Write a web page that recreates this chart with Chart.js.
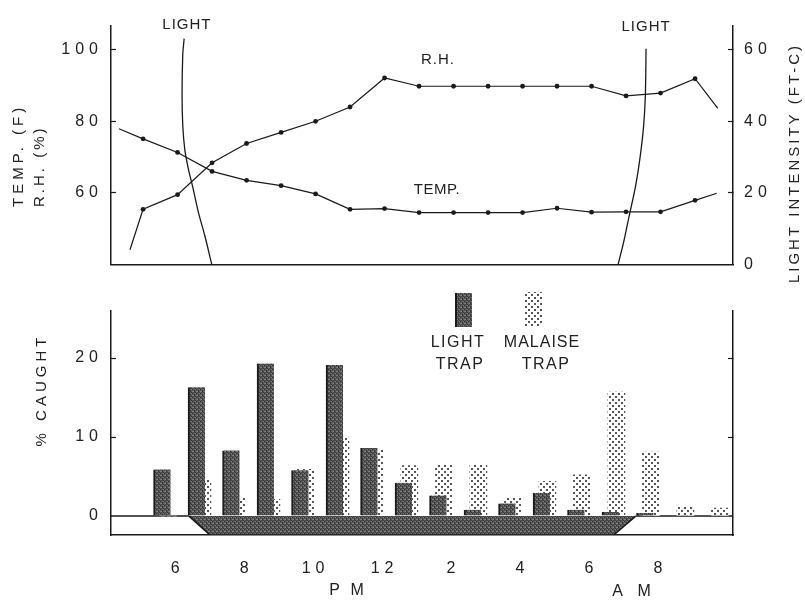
<!DOCTYPE html>
<html>
<head>
<meta charset="utf-8">
<script src="https://cdn.jsdelivr.net/npm/chart.js@4.4.1/dist/chart.umd.min.js"></script>
<style>
  html, body { margin: 0; padding: 0; background: #fff; }
  #wrap { position: relative; width: 805px; height: 600px; overflow: hidden; }
  #topChart { position: absolute; left: 0; top: 0; }
  #bottomChart { position: absolute; left: 0; top: 285px; }
</style>
</head>
<body>
<div id="wrap">
  <canvas id="topChart" width="805" height="290"></canvas>
  <canvas id="bottomChart" width="805" height="315"></canvas>
</div>
<script>
// hours are counted from noon of the first day: 17 = 5 PM ... 24 = midnight ... 33 = 9 AM
const readingHours = [17, 18, 19, 20, 21, 22, 23, 24, 25, 26, 27, 28, 29, 30, 31, 32, 33];
const tempF  = [75.1, 71.3, 66.0, 63.5, 62.0, 59.7, 55.4, 55.6, 54.5, 54.5, 54.5, 54.5, 55.7, 54.6, 54.7, 54.7, 57.9];
const relHum = [55.4, 59.5, 68.4, 73.8, 76.9, 80.0, 84.0, 92.1, 89.8, 89.8, 89.8, 89.8, 89.8, 89.8, 87.1, 87.9, 91.9];
// the curves run a little past the first and last readings
const tempEdgeHours = [16.3, 33.63];
const tempEdgeValues = [77.9, 59.9];
const rhEdgeHours = [16.62, 33.66];
const rhEdgeValues = [44.1, 83.6];

// light intensity (ft-c) at dusk and dawn
const duskHours = [18.19, 18.15, 18.13, 18.15, 18.21, 18.31, 18.44, 18.60, 18.79, 18.99];
const duskLight = [63.1, 58.6, 47.4, 38.9, 32.0, 26.8, 21.6, 14.7, 8.0, 0];
const dawnHours = [30.77, 30.93, 31.08, 31.27, 31.41, 31.51, 31.56, 31.58];
const dawnLight = [0, 6.2, 13.1, 21.6, 30.2, 38.8, 47.4, 60.3];

// % caught per hourly interval (interval start hour)
const binStarts = [17, 18, 19, 20, 21, 22, 23, 24, 25, 26, 27, 28, 29, 30, 31, 32, 33];
const lightTrapPct   = [5.9, 16.3, 8.3, 19.3, 5.8, 19.1, 8.6, 4.2, 2.6, 0.8, 1.6, 2.9, 0.8, 0.5, 0.4, 0, 0];
const malaiseTrapPct = [0, 4.6, 2.3, 2.1, 5.9, 10.0, 8.4, 6.4, 6.5, 6.5, 2.3, 4.4, 5.2, 15.7, 8.1, 1.2, 1.0];

// dark night band under the bars
const nightHours = [18.33, 18.94, 30.64, 31.28];
const nightEdge  = [0, -2.4, -2.4, 0];

const tempTicks = [60, 80, 100];
const lightTicks = [0, 20, 40, 60];
const caughtTicks = [0, 10, 20];
const clockTicks = [18, 20, 22, 24, 26, 28, 30, 32];
const clockLabels = ['6', '8', '10', '12', '2', '4', '6', '8'];

const X_MIN = 16.07, X_MAX = 34.1;
const INK = '#1a1a1a';
const FONT = '"Liberation Sans", Arial, sans-serif';

Chart.defaults.font.family = FONT;
Chart.defaults.font.size = 16;
Chart.defaults.color = '#222';

function makePattern(size, bg, dots) {
    const c = document.createElement('canvas');
    c.width = size; c.height = size;
    const g = c.getContext('2d');
    g.fillStyle = bg;
    g.fillRect(0, 0, size, size);
    dots.forEach(d => {
        g.fillStyle = d[4];
        g.fillRect(d[0], d[1], d[2], d[3]);
    });
    return g.createPattern(c, 'repeat');
}

const darkFill = makePattern(4, '#5a5a5a', [
    [0, 0, 1, 1, '#2e2e2e'], [2, 1, 1, 1, '#363636'], [1, 2, 1, 1, '#8a8a8a'],
    [3, 3, 1, 1, '#333'], [3, 0, 1, 1, '#7c7c7c'], [1, 3, 1, 1, '#444'],
    [2, 2, 1, 1, '#303030'], [0, 2, 1, 1, '#777']
]);
const dotFill = makePattern(6, '#ffffff', [
    [0, 0, 2, 2, '#555'], [3, 3, 2, 2, '#555']
]);

function drawText(ctx, text, x, y, o) {
    ctx.save();
    ctx.font = (o.size || 15) + 'px ' + FONT;
    ctx.letterSpacing = (o.spacing || 0) + 'px';
    ctx.fillStyle = '#222';
    ctx.textAlign = o.align || 'center';
    ctx.textBaseline = 'middle';
    ctx.translate(x, y);
    if (o.rotate) ctx.rotate(o.rotate);
    ctx.fillText(text, 0, 0);
    ctx.restore();
}

const spacedTicks = {
    id: 'spacedTicks',
    beforeDraw(chart) { chart.ctx.letterSpacing = '5px'; }
};

function withEdges(hours, values, edgeH, edgeV) {
    const pts = hours.map((h, i) => ({x: h, y: values[i]}));
    return [{x: edgeH[0], y: edgeV[0]}, ...pts, {x: edgeH[1], y: edgeV[1]}];
}

function yAxis(position, ticks, min, max, padding, showLabels) {
    return {
        type: 'linear',
        position: position,
        min: min,
        max: max,
        afterBuildTicks: s => { s.ticks = ticks.map(v => ({value: v})); },
        afterFit: s => { s.width = position === 'left' ? 111 : 72; },
        ticks: {
            padding: padding,
            font: {size: 16},
            callback: v => showLabels ? String(v) : ''
        },
        grid: {
            drawOnChartArea: false,
            tickLength: -5,
            tickWidth: 1.2,
            tickColor: c => c.tick && c.tick.value === 0 ? 'rgba(0,0,0,0)' : INK
        },
        border: {display: true, color: INK, width: 1.5}
    };
}

// ---------- upper panel: temperature, R.H., light ----------
const topLabels = {
    id: 'topLabels',
    afterDraw(chart) {
        const ctx = chart.ctx;
        const x = chart.scales.x, y = chart.scales.y;
        drawText(ctx, 'LIGHT', x.getPixelForValue(18.27), y.getPixelForValue(107), {size: 15, spacing: 1});
        drawText(ctx, 'LIGHT', x.getPixelForValue(31.58), y.getPixelForValue(106.5), {size: 15, spacing: 1});
        drawText(ctx, 'R.H.', x.getPixelForValue(25.55), y.getPixelForValue(97.1), {size: 15, spacing: 1});
        drawText(ctx, 'TEMP.', x.getPixelForValue(25.52), y.getPixelForValue(60.9), {size: 15, spacing: 0.5});
        drawText(ctx, 'TEMP. (F)', 19, 207, {size: 15, spacing: 4, align: 'left', rotate: -Math.PI / 2});
        drawText(ctx, 'R.H. (%)', 40, 207, {size: 15, spacing: 3, align: 'left', rotate: -Math.PI / 2});
        drawText(ctx, 'LIGHT INTENSITY (FT-C)', 795, 163, {size: 15, spacing: 3, rotate: -Math.PI / 2});
    }
};

const dotRadius = c => (c.dataIndex === 0 || c.dataIndex === readingHours.length + 1) ? 0 : 2.4;

new Chart(document.getElementById('topChart'), {
    type: 'line',
    data: {
        datasets: [
            {
                label: 'R.H.',
                data: withEdges(readingHours, relHum, rhEdgeHours, rhEdgeValues),
                yAxisID: 'y',
                borderColor: INK, backgroundColor: INK, borderWidth: 1.2,
                pointRadius: dotRadius, pointBorderWidth: 0, tension: 0
            },
            {
                label: 'TEMP.',
                data: withEdges(readingHours, tempF, tempEdgeHours, tempEdgeValues),
                yAxisID: 'y',
                borderColor: INK, backgroundColor: INK, borderWidth: 1.2,
                pointRadius: dotRadius, pointBorderWidth: 0, tension: 0
            },
            {
                label: 'LIGHT dusk',
                data: duskHours.map((h, i) => ({x: h, y: duskLight[i]})),
                yAxisID: 'yLight',
                borderColor: INK, borderWidth: 1.3, pointRadius: 0, tension: 0.3
            },
            {
                label: 'LIGHT dawn',
                data: dawnHours.map((h, i) => ({x: h, y: dawnLight[i]})),
                yAxisID: 'yLight',
                borderColor: INK, borderWidth: 1.3, pointRadius: 0, tension: 0.3
            }
        ]
    },
    options: {
        responsive: false,
        animation: false,
        layout: {padding: {top: 23, bottom: 5, left: 0, right: 0}},
        plugins: {legend: {display: false}, tooltip: {enabled: false}},
        scales: {
            x: {
                type: 'linear', min: X_MIN, max: X_MAX,
                ticks: {display: false},
                grid: {display: false},
                border: {display: true, color: INK, width: 1.5},
                afterFit: s => { s.height = 0; }
            },
            y: yAxis('left', tempTicks, 40, 106.75, 13, true),
            yLight: yAxis('right', lightTicks, 0, 66.75, 16, true)
        }
    },
    plugins: [spacedTicks, topLabels]
});

// ---------- lower panel: % caught ----------
const bottomLabels = {
    id: 'bottomLabels',
    afterDraw(chart) {
        const ctx = chart.ctx;
        const x = chart.scales.x;
        const area = chart.chartArea;
        drawText(ctx, 'P M', x.getPixelForValue(22.94), area.bottom + 56, {size: 16, spacing: 3});
        drawText(ctx, 'A M', x.getPixelForValue(31.23), area.bottom + 57, {size: 16, spacing: 5});
        drawText(ctx, '% CAUGHT', 42, 105, {size: 15, spacing: 4, rotate: -Math.PI / 2});

        // legend
        ctx.save();
        ctx.fillStyle = darkFill;
        ctx.fillRect(455, 8, 17, 34);
        ctx.fillStyle = INK;
        ctx.fillRect(455, 8, 2, 34);
        ctx.fillStyle = dotFill;
        ctx.fillRect(525, 7, 17, 35);
        ctx.restore();
        drawText(ctx, 'LIGHT', 458, 58, {size: 16, spacing: 1.5});
        drawText(ctx, 'TRAP', 460, 80, {size: 16, spacing: 1.5});
        drawText(ctx, 'MALAISE', 542, 58, {size: 16, spacing: 1});
        drawText(ctx, 'TRAP', 546, 80, {size: 16, spacing: 1.5});
    }
};

new Chart(document.getElementById('bottomChart'), {
    type: 'bar',
    data: {
        datasets: [
            {
                label: 'LIGHT TRAP',
                data: binStarts.map((h, i) => ({x: h + 0.55, y: lightTrapPct[i]})),
                backgroundColor: darkFill,
                borderColor: INK,
                borderWidth: c => (c.raw && c.raw.y > 0) ? {left: 2, top: 0, right: 0, bottom: 0} : 0,
                borderSkipped: 'start',
                barThickness: 17,
                grouped: false,
                order: 0
            },
            {
                label: 'MALAISE TRAP',
                data: binStarts.map((h, i) => ({x: h + 0.72, y: malaiseTrapPct[i]})),
                backgroundColor: dotFill,
                borderWidth: 0,
                barThickness: 17,
                grouped: false,
                order: 1
            },
            {
                type: 'line',
                label: 'night',
                data: nightHours.map((h, i) => ({x: h, y: nightEdge[i]})),
                borderColor: INK,
                borderWidth: 1.6,
                backgroundColor: darkFill,
                fill: {value: 0},
                pointRadius: 0,
                tension: 0,
                order: 2
            },
            {
                type: 'line',
                label: 'day band',
                data: [
                    {x: X_MIN, y: 0}, {x: nightHours[0], y: 0},
                    {x: 24, y: null},
                    {x: nightHours[3], y: 0}, {x: X_MAX, y: 0}
                ],
                borderColor: INK,
                borderWidth: 1.6,
                pointRadius: 0,
                spanGaps: false,
                fill: false,
                order: 2
            }
        ]
    },
    options: {
        responsive: false,
        animation: false,
        layout: {padding: {top: 20, bottom: 0, left: 0, right: 0}},
        plugins: {legend: {display: false}, tooltip: {enabled: false}},
        scales: {
            x: {
                type: 'linear', min: X_MIN, max: X_MAX, offset: false,
                afterBuildTicks: s => { s.ticks = clockTicks.map(v => ({value: v})); },
                afterFit: s => { s.height = 65; },
                ticks: {
                    padding: 16,
                    maxRotation: 0,
                    autoSkip: false,
                    callback: (v, i) => clockLabels[i]
                },
                grid: {display: false},
                border: {display: true, color: INK, width: 1.5}
            },
            y: yAxis('left', caughtTicks, -2.4, 26, 13, true),
            y2: yAxis('right', caughtTicks, -2.4, 26, 16, false)
        }
    },
    plugins: [spacedTicks, bottomLabels]
});
</script>
</body>
</html>
